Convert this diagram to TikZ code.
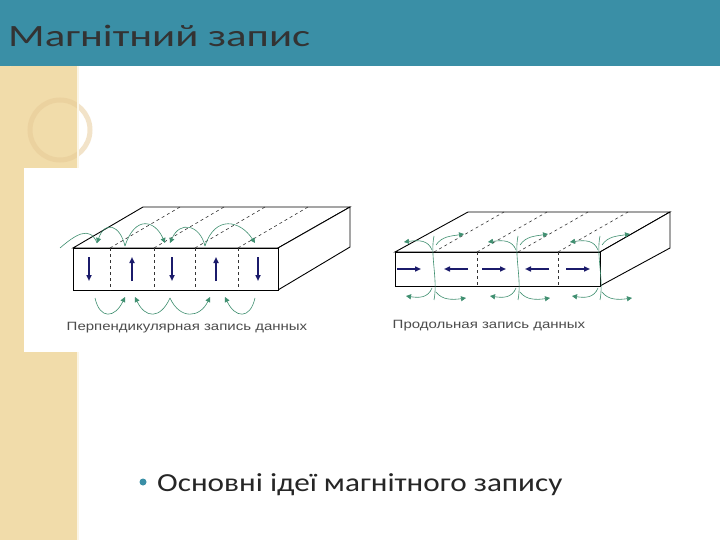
\documentclass[tikz,border=0pt]{standalone}
\usepackage{fontspec}
\setmainfont{Carlito}
\newfontfamily\lab{Liberation Sans}
\usetikzlibrary{arrows.meta}
\definecolor{teal1}{HTML}{3A8FA6}
\definecolor{beige}{HTML}{F1DCAA}
\definecolor{fld}{HTML}{3F8F70}
\definecolor{navy}{HTML}{1B1B6B}
\tikzset{
 fl/.style={draw=fld,line width=0.6pt,-{Triangle[length=5pt,width=5pt]}},
 fln/.style={draw=fld,line width=0.6pt},
 mag/.style={draw=navy,line width=1.6pt,-{Triangle[length=6pt,width=5pt]}},
 edge/.style={draw=black,line width=0.9pt},
 div/.style={draw=black!80,dashed,line width=0.6pt},
 capt/.style={font=\lab\fontsize{12}{14}\selectfont,text=black!70}
}
\begin{document}
\begin{tikzpicture}[x=1pt,y=-1pt]
\useasboundingbox (0,0) rectangle (720,540);
\fill[white] (0,0) rectangle (720,540);
% left strip
\fill[beige] (0,66) rectangle (78,540);
\draw[white,line width=2pt] (10,66) arc[start angle=190,end angle=330,radius=45];
\draw[beige!80!brown,line width=5pt,opacity=0.5] (60,130) circle[radius=30];
\draw[white!70!beige,line width=1.5pt] (78,66) -- (78,540);
% header
\fill[teal1] (0,0) rectangle (720,66);
\node[anchor=base west,inner sep=0pt,font=\fontsize{31}{34}\selectfont,text=black!80] (title) at (8,47) {\scalebox{1.38}[1]{Магнітний запис}};
% pasted figure background
\fill[white] (24,168) rectangle (360,352);
% ---------- left block
\draw[edge,fill=white] (73,248) -- (143,207) -- (350,207) -- (278,248) -- cycle;
\draw[edge,fill=white] (278,248) -- (350,207) -- (350,247) -- (278,290) -- cycle;
\draw[edge,fill=white] (73,248) rectangle (278,290);
\foreach \x in {110,154,195,238}{
 \draw[div] (\x,248) -- (\x,290);
 \draw[div] (\x,248) -- ++(70,-41);
}
\foreach \x/\d in {89/1,132/-1,172/1,216/-1,258/1}{
 \draw[mag] (\x,269-12*\d) -- (\x,269+12*\d);
}
% field lines above
\draw[fl] (125,246) .. controls (120,225) and (105,220) .. (97,243);
\draw[fl] (125,246) .. controls (135,215) and (155,220) .. (165,243);
\draw[fl] (205,246) .. controls (200,225) and (180,220) .. (170,243);
\draw[fl] (205,246) .. controls (215,215) and (240,220) .. (255,243);
\draw[fln] (60,248) .. controls (75,235) and (90,225) .. (97,243);
% field lines below
\draw[fl] (95,298) .. controls (100,320) and (115,318) .. (125,297);
\draw[fl] (170,298) .. controls (160,320) and (145,318) .. (135,297);
\draw[fl] (170,298) .. controls (180,320) and (200,318) .. (210,297);
\draw[fl] (255,298) .. controls (250,320) and (235,318) .. (225,297);
% ---------- right block
\draw[edge,fill=white] (395,252) -- (468,212) -- (670,212) -- (600,252) -- cycle;
\draw[edge,fill=white] (600,252) -- (670,212) -- (670,248) -- (600,286) -- cycle;
\draw[edge,fill=white] (395,252) rectangle (600,286);
\foreach \x in {477,558}{
 \draw[div] (\x,252) -- (\x,286);
}
\foreach \x in {434,477,518,558}{
 \draw[div] (\x,252) -- ++(70,-40);
}
\foreach \x/\d in {409/1,456/-1,494/1,537/-1,578/1}{
 \draw[mag] (\x-12*\d,269) -- (\x+12*\d,269);
}
\foreach \b in {434,518,600}{
 \draw[fln] (\b,236) .. controls (\b-4,255) and (\b+4,280) .. (\b,300);
 \draw[fl] (\b-2,250) .. controls (\b-6,240) and (\b-15,240) .. (\b-30,242);
 \draw[fl] (\b+2,245) .. controls (\b+8,236) and (\b+18,236) .. (\b+30,234);
 \draw[fl] (\b-2,288) .. controls (\b-6,298) and (\b-15,298) .. (\b-28,296);
 \draw[fl] (\b+2,292) .. controls (\b+8,300) and (\b+18,300) .. (\b+32,298);
}
% captions
\node[capt] (c1) at (187,328) {\scalebox{1.25}[1]{Перпендикулярная запись данных}};
\node[capt] (c2) at (489,326) {\scalebox{1.25}[1]{Продольная запись данных}};
% bullet
\fill[teal1] (143,482) circle[radius=3.5];
\node[anchor=base west,inner sep=0pt,font=\fontsize{26}{30}\selectfont,text=black!85] (b1) at (157,491) {\scalebox{1.2}[1]{Основні ідеї магнітного запису}};
\end{tikzpicture}
\end{document}
